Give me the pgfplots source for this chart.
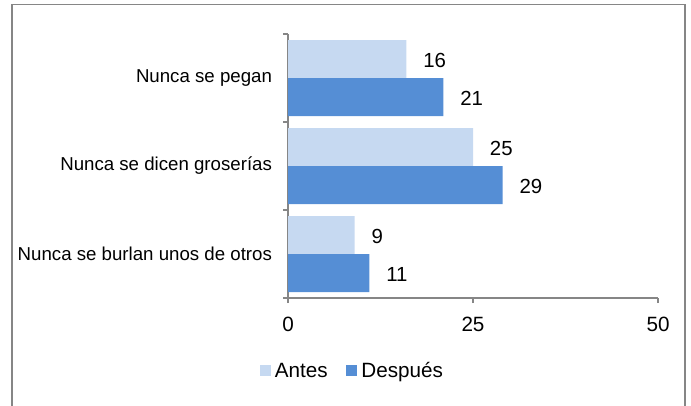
\documentclass[border=0pt]{standalone}
\usepackage{fontspec}
\setmainfont{Liberation Sans}
\usepackage{pgfplots}
\pgfplotsset{compat=1.18}
\definecolor{antes}{RGB}{198,217,241}
\definecolor{despues}{RGB}{85,142,213}
\definecolor{axgray}{RGB}{134,134,134}
\begin{document}
\begin{tikzpicture}
\useasboundingbox (0,0) rectangle (518.25pt,-303.75pt);
\clip (0,0) rectangle (518.25pt,-303.75pt);
\draw[axgray, line width=1.3pt] (9pt,-330pt) -- (9pt,-3.4pt) -- (513.75pt,-3.4pt) -- (513.75pt,-330pt);
\begin{axis}[
  at={(216pt,-223.5pt)}, anchor=south west,
  scale only axis, width=277.5pt, height=198pt,
  xbar, bar width=0.432,
  xmin=0, xmax=50, xtick={0,25,50},
  ymin=-0.5, ymax=2.5, y dir=reverse,
  ytick={-0.5,0.5,1.5,2.5},
  y tick label as interval,
  yticklabels={Nunca se pegan,Nunca se dicen groserías,Nunca se burlan unos de otros},
  axis x line*=bottom, axis y line*=left,
  axis line style={axgray, line width=0.9pt, -},
  tick style={axgray, line width=0.9pt},
  tick align=outside, major tick length=3.75pt,
  /pgf/number format/assume math mode=true,
  xticklabel style={font=\fontsize{15.5}{18}\selectfont, yshift=-7pt},
  yticklabel style={font=\fontsize{14}{17}\selectfont, xshift=-4.75pt},
  nodes near coords,
  every node near coord/.append style={font=\fontsize{15.3}{18}\selectfont, anchor=west, inner sep=0pt, xshift=12.5pt, yshift=-1.3pt},
  legend style={at={(0.177,-0.2765)}, anchor=center, draw=none, legend columns=2,
    font=\fontsize{15.5}{18}\selectfont, column sep=0pt,
    nodes={inner sep=3pt},
    /tikz/every even column/.append style={column sep=11pt}},
  legend image code/.code={\fill[#1] (0pt,-4pt) rectangle (8.2pt,4.2pt);},
]
\addplot[fill=antes, draw=none, bar shift=-0.216] coordinates {(16,0) (25,1) (9,2)};
\addplot[fill=despues, draw=none, bar shift=0.216] coordinates {(21,0) (29,1) (11,2)};
\legend{Antes,Después}
\end{axis}
\end{tikzpicture}
\end{document}
